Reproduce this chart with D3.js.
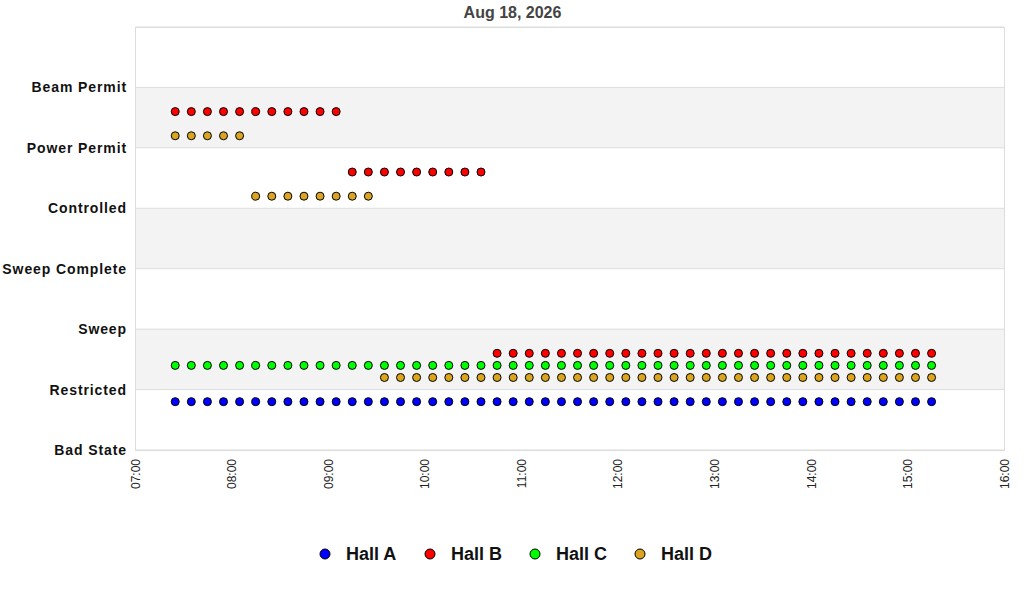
<!DOCTYPE html>
<html>
<head>
<meta charset="utf-8">
<script src="https://d3js.org/d3.v7.min.js"></script>
<style>
  body { margin: 0; background: #fff; }
  svg { font-family: 'Liberation Sans', Arial, sans-serif; }
</style>
</head>
<body>
<svg id="chart" width="1024" height="600"></svg>
<script>
// Chart data
const chartTitle = 'Aug 18, 2026';
const states = ['Bad State', 'Restricted', 'Sweep', 'Sweep Complete', 'Controlled', 'Power Permit', 'Beam Permit'];
const halls = ['Hall A', 'Hall B', 'Hall C', 'Hall D'];
const times = [
  '07:25', '07:35', '07:45', '07:55', '08:05', '08:15', '08:25', '08:35', '08:45', '08:55',
  '09:05', '09:15', '09:25', '09:35', '09:45', '09:55', '10:05', '10:15', '10:25', '10:35',
  '10:45', '10:55', '11:05', '11:15', '11:25', '11:35', '11:45', '11:55', '12:05', '12:15',
  '12:25', '12:35', '12:45', '12:55', '13:05', '13:15', '13:25', '13:35', '13:45', '13:55',
  '14:05', '14:15', '14:25', '14:35', '14:45', '14:55', '15:05', '15:15'
];
// state index per time sample (0 = Bad State ... 6 = Beam Permit)
const hallA = [
  1, 1, 1, 1, 1, 1, 1, 1, 1, 1, 1, 1, 1, 1, 1, 1, 1, 1, 1, 1, 1, 1, 1, 1,
  1, 1, 1, 1, 1, 1, 1, 1, 1, 1, 1, 1, 1, 1, 1, 1, 1, 1, 1, 1, 1, 1, 1, 1
];
const hallB = [
  5, 5, 5, 5, 5, 5, 5, 5, 5, 5, 5, 4, 4, 4, 4, 4, 4, 4, 4, 4, 1, 1, 1, 1,
  1, 1, 1, 1, 1, 1, 1, 1, 1, 1, 1, 1, 1, 1, 1, 1, 1, 1, 1, 1, 1, 1, 1, 1
];
const hallC = [
  1, 1, 1, 1, 1, 1, 1, 1, 1, 1, 1, 1, 1, 1, 1, 1, 1, 1, 1, 1, 1, 1, 1, 1,
  1, 1, 1, 1, 1, 1, 1, 1, 1, 1, 1, 1, 1, 1, 1, 1, 1, 1, 1, 1, 1, 1, 1, 1
];
const hallD = [
  5, 5, 5, 5, 5, 4, 4, 4, 4, 4, 4, 4, 4, 1, 1, 1, 1, 1, 1, 1, 1, 1, 1, 1,
  1, 1, 1, 1, 1, 1, 1, 1, 1, 1, 1, 1, 1, 1, 1, 1, 1, 1, 1, 1, 1, 1, 1, 1
];
const xTickLabels = ['07:00', '08:00', '09:00', '10:00', '11:00', '12:00', '13:00', '14:00', '15:00', '16:00'];

// Styling per series (vertical offset inside a state band, colour)
const hallColors = ['#0000ff', '#ff0000', '#00ff00', '#daa520'];
const hallOffsets = [-0.2, 0.6, 0.4, 0.2];
const hallValues = [hallA, hallB, hallC, hallD];

const svg = d3.select('#chart');
const margin = { left: 135, right: 20, top: 27, bottom: 150 };
const width = 1024, height = 600;
const parseTime = d3.timeParse('%Y-%m-%d %H:%M');
const day = '2026-08-18';

const x = d3.scaleTime()
  .domain([parseTime(`${day} ${xTickLabels[0]}`), parseTime(`${day} ${xTickLabels[xTickLabels.length - 1]}`)])
  .range([margin.left, width - margin.right]);
const y = d3.scaleLinear()
  .domain([0, states.length])
  .range([height - margin.bottom, margin.top]);

// Title
svg.append('text')
  .attr('x', (margin.left + width - margin.right) / 2 - 57)
  .attr('y', 18)
  .attr('text-anchor', 'middle')
  .attr('font-size', 16)
  .attr('font-weight', 'bold')
  .attr('fill', '#444')
  .text(chartTitle);

// Alternating bands
const bands = d3.range(1, states.length, 2);
svg.append('g').selectAll('rect')
  .data(bands)
  .enter().append('rect')
  .attr('x', x.range()[0])
  .attr('width', x.range()[1] - x.range()[0])
  .attr('y', d => y(d + 1))
  .attr('height', d => y(d) - y(d + 1))
  .attr('fill', '#f3f3f3');

// Horizontal grid lines
svg.append('g').selectAll('line')
  .data(d3.range(0, states.length + 1))
  .enter().append('line')
  .attr('x1', x.range()[0])
  .attr('x2', x.range()[1])
  .attr('y1', d => y(d))
  .attr('y2', d => y(d))
  .attr('stroke', '#ddd')
  .attr('stroke-width', 1);

// Plot border
svg.append('rect')
  .attr('x', x.range()[0] + 0.5)
  .attr('y', y.range()[1] + 0.5)
  .attr('width', x.range()[1] - x.range()[0])
  .attr('height', y.range()[0] - y.range()[1])
  .attr('fill', 'none')
  .attr('stroke', '#ddd');

// Y axis labels
const yAxis = d3.axisLeft(y)
  .tickValues(d3.range(states.length))
  .tickFormat(d => states[d])
  .tickSize(0)
  .tickPadding(8);
svg.append('g')
  .attr('transform', `translate(${margin.left},0)`)
  .call(yAxis)
  .call(g => g.select('.domain').remove())
  .call(g => g.selectAll('text')
    .attr('font-size', 14)
    .attr('font-weight', 'bold')
    .attr('letter-spacing', 0.9)
    .attr('fill', '#111')
    .attr('font-family', "'Liberation Sans', Arial, sans-serif"));

// X axis labels, rotated
const xAxis = d3.axisBottom(x)
  .tickValues(xTickLabels.map(t => parseTime(`${day} ${t}`)))
  .tickFormat(d3.timeFormat('%H:%M'))
  .tickSize(0);
svg.append('g')
  .attr('transform', `translate(0,${y.range()[0]})`)
  .call(xAxis)
  .call(g => g.select('.domain').remove())
  .call(g => g.selectAll('text')
    .attr('font-size', 12)
    .attr('fill', '#222')
    .attr('font-family', "'Liberation Sans', Arial, sans-serif")
    .attr('text-anchor', 'end')
    .attr('transform', 'rotate(-90)')
    .attr('x', -9)
    .attr('y', 0)
    .attr('dy', '0.35em'));

// Points
halls.forEach((hall, i) => {
  const pts = times.map((t, j) => ({ t: parseTime(`${day} ${t}`), v: hallValues[i][j] }));
  svg.append('g').selectAll('circle')
    .data(pts)
    .enter().append('circle')
    .attr('cx', d => x(d.t))
    .attr('cy', d => y(d.v + hallOffsets[i]))
    .attr('r', 4)
    .attr('fill', hallColors[i])
    .attr('stroke', '#000')
    .attr('stroke-width', 1);
});

// Legend
const legendX = d3.scalePoint().domain(halls).range([325, 640]);
const legend = svg.append('g').selectAll('g')
  .data(halls)
  .enter().append('g')
  .attr('transform', d => `translate(${legendX(d)},554)`);
legend.append('circle')
  .attr('r', 5)
  .attr('fill', (d, i) => hallColors[i])
  .attr('stroke', '#000');
legend.append('text')
  .attr('x', 21)
  .attr('dy', '0.35em')
  .attr('font-size', 18)
  .attr('font-weight', 'bold')
  .attr('fill', '#111')
  .text(d => d);
</script>
</body>
</html>
